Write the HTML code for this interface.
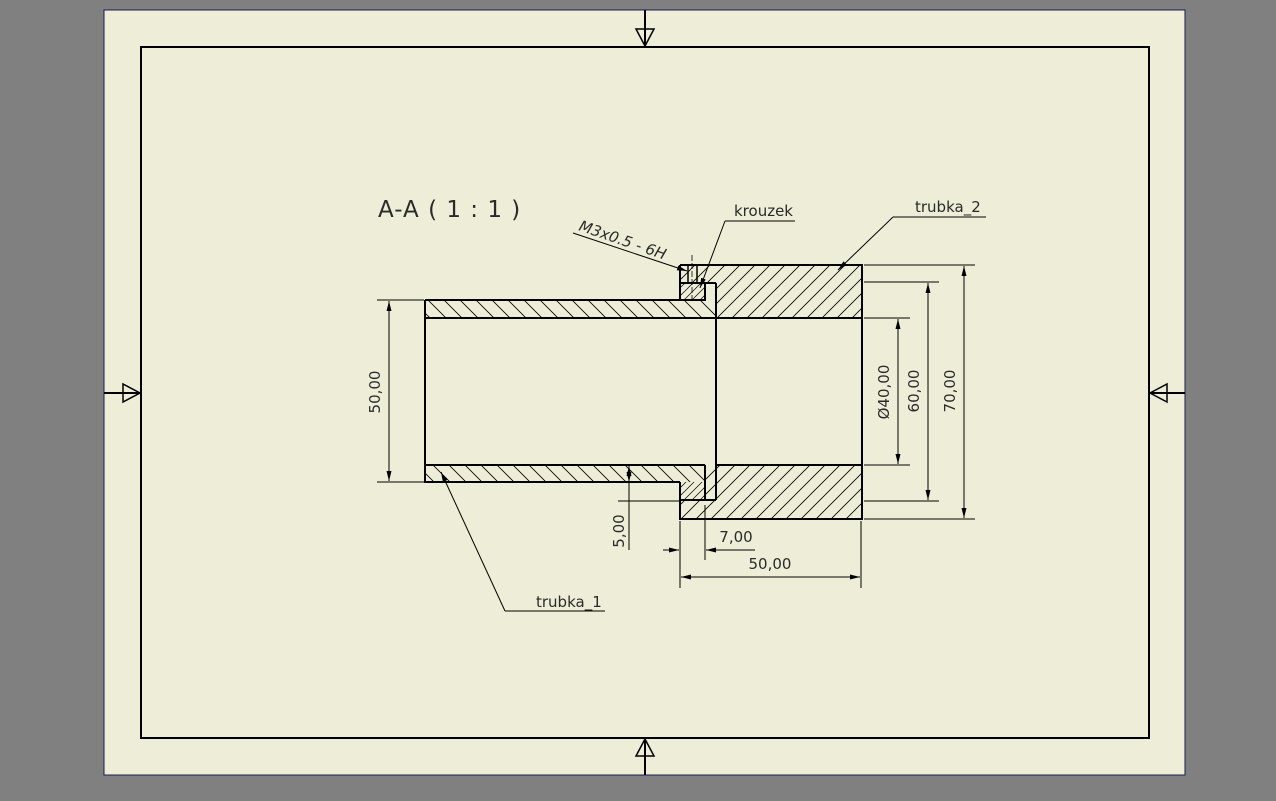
<!DOCTYPE html>
<html><head><meta charset="utf-8"><style>
html,body{margin:0;padding:0;background:#808080;}
svg{display:block}
text{font-family:"DejaVu Sans","Liberation Sans",sans-serif;fill:#2a2a2a}
</style></head><body>
<svg width="1276" height="801" viewBox="0 0 1276 801" xmlns="http://www.w3.org/2000/svg">
<defs>
<pattern id="hb" patternUnits="userSpaceOnUse" width="16" height="16" patternTransform="rotate(0)">
<path d="M0,0 L16,16 M-8,8 L8,24 M8,-8 L24,8" stroke="#000" stroke-width="0.8"/>
</pattern>
<pattern id="hf" patternUnits="userSpaceOnUse" width="15" height="15">
<path d="M0,15 L15,0 M-8,8 L8,-8 M7,23 L23,7" stroke="#000" stroke-width="0.8"/>
</pattern>
<pattern id="hk" patternUnits="userSpaceOnUse" width="8" height="8">
<path d="M0,8 L8,0 M-4,4 L4,-4 M4,12 L12,4" stroke="#000" stroke-width="0.7"/>
</pattern>
<marker id="ar" markerWidth="10" markerHeight="6" refX="10" refY="3" orient="auto" markerUnits="userSpaceOnUse">
<path d="M0,0.5 L10,3 L0,5.5 Z" fill="#000"/>
</marker>
</defs>
<rect x="104" y="10" width="1081" height="765" fill="#eeeed8" stroke="#1a1a50" stroke-width="1"/>
<rect x="141" y="47" width="1008" height="691" fill="none" stroke="#000" stroke-width="2"/>
<!-- center marks -->
<g stroke="#000" stroke-width="2" fill="none">
<line x1="645" y1="10" x2="645" y2="47"/><path d="M636,29 L654,29 L645,46 Z" stroke-width="1.5"/>
<line x1="645" y1="738" x2="645" y2="775"/><path d="M636,756 L654,756 L645,739 Z" stroke-width="1.5"/>
<line x1="104" y1="393" x2="141" y2="393"/><path d="M123,384 L123,402 L140,393 Z" stroke-width="1.5"/>
<line x1="1149" y1="393" x2="1185" y2="393"/><path d="M1167,384 L1167,402 L1150,393 Z" stroke-width="1.5"/>
</g>
<text x="378" y="217" font-size="23" style="letter-spacing:1px">A-A ( 1 : 1 )</text>
<!-- hatched regions -->
<g stroke="none">
<rect x="425" y="300" width="291" height="18" fill="url(#hb)"/>
<rect x="425" y="465" width="280" height="17" fill="url(#hb)"/>
<path d="M680,265 H862 V318 H716 V283 H680 Z" fill="url(#hf)"/>
<path d="M716,465 H862 V519 H680 V500 H716 Z" fill="url(#hf)"/>
<path d="M705,465 H716 V500 H705 Z" fill="url(#hf)"/>
<rect x="680" y="283" width="25" height="17" fill="url(#hk)"/>
<rect x="680" y="482" width="25" height="18" fill="url(#hk)"/>
</g>
<!-- outlines -->
<g stroke="#000" stroke-width="2" fill="none">
<path d="M425,300 H680 M425,300 V482 H680 M425,318 H716 M425,465 H705"/>
<path d="M680,265 H862 V519 H680 V482 M680,265 V300"/>
<line x1="716" y1="283" x2="716" y2="500"/>
<path d="M680,283 H716 M680,300 H705 V283"/>
<path d="M705,465 V500 M680,500 H716"/>
<line x1="716" y1="318" x2="862" y2="318"/><line x1="716" y1="465" x2="862" y2="465"/>
<rect x="688" y="265" width="9" height="18" stroke-width="1.5"/>
</g>
<line x1="692" y1="255" x2="692" y2="300" stroke="#000" stroke-width="0.8" stroke-dasharray="6,2"/>
<!-- dimension lines -->
<g stroke="#000" stroke-width="1" fill="none">
<line x1="377" y1="300" x2="424" y2="300"/><line x1="377" y1="482" x2="424" y2="482"/>
<line x1="389" y1="391" x2="389" y2="301" marker-end="url(#ar)"/><line x1="389" y1="391" x2="389" y2="481" marker-end="url(#ar)"/>
<line x1="864" y1="318" x2="910" y2="318"/><line x1="864" y1="465" x2="910" y2="465"/>
<line x1="898" y1="391" x2="898" y2="319" marker-end="url(#ar)"/><line x1="898" y1="391" x2="898" y2="464" marker-end="url(#ar)"/>
<line x1="864" y1="282" x2="939" y2="282"/><line x1="864" y1="501" x2="939" y2="501"/>
<line x1="928" y1="391" x2="928" y2="283" marker-end="url(#ar)"/><line x1="928" y1="391" x2="928" y2="500" marker-end="url(#ar)"/>
<line x1="864" y1="265" x2="975" y2="265"/><line x1="864" y1="519" x2="975" y2="519"/>
<line x1="964" y1="391" x2="964" y2="266" marker-end="url(#ar)"/><line x1="964" y1="391" x2="964" y2="518" marker-end="url(#ar)"/>
<!-- 5,00 -->
<line x1="618" y1="501" x2="680" y2="501"/>
<line x1="629" y1="470" x2="629" y2="482" marker-end="url(#ar)"/>
<line x1="629" y1="478" x2="629" y2="466" marker-end="url(#ar)"/>
<line x1="629" y1="482" x2="629" y2="550"/>
<!-- 7,00 -->
<line x1="705" y1="505" x2="705" y2="560"/>
<line x1="663" y1="550" x2="679" y2="550" marker-end="url(#ar)"/>
<line x1="755" y1="550" x2="706" y2="550" marker-end="url(#ar)"/>
<!-- 50 bottom -->
<line x1="680" y1="521" x2="680" y2="588"/><line x1="861" y1="521" x2="861" y2="588"/>
<line x1="770" y1="577" x2="681" y2="577" marker-end="url(#ar)"/><line x1="770" y1="577" x2="860" y2="577" marker-end="url(#ar)"/>
<!-- leaders -->
<path d="M605,611 H505 L505,611"/><line x1="505" y1="611" x2="441" y2="472" marker-end="url(#ar)"/>
<line x1="893" y1="217" x2="986" y2="217"/><line x1="893" y1="217" x2="838" y2="270" marker-end="url(#ar)"/>
<line x1="725" y1="221" x2="795" y2="221"/><line x1="725" y1="221" x2="700" y2="288" marker-end="url(#ar)"/>
<line x1="573" y1="233" x2="687" y2="271" marker-end="url(#ar)"/>
</g>
<g font-size="15">
<text transform="translate(380,392) rotate(-90)" text-anchor="middle">50,00</text>
<text transform="translate(889,392) rotate(-90)" text-anchor="middle">Ø40,00</text>
<text transform="translate(919,391) rotate(-90)" text-anchor="middle">60,00</text>
<text transform="translate(955,391) rotate(-90)" text-anchor="middle">70,00</text>
<text transform="translate(624,531) rotate(-90)" text-anchor="middle">5,00</text>
<text x="736" y="542" text-anchor="middle">7,00</text>
<text x="770" y="569" text-anchor="middle">50,00</text>
<text x="536" y="607">trubka_1</text>
<text x="915" y="212">trubka_2</text>
<text x="734" y="216">krouzek</text>
<text transform="translate(578,230) rotate(19)" font-style="italic">M3x0.5 - 6H</text>
</g>
</svg>
</body></html>
